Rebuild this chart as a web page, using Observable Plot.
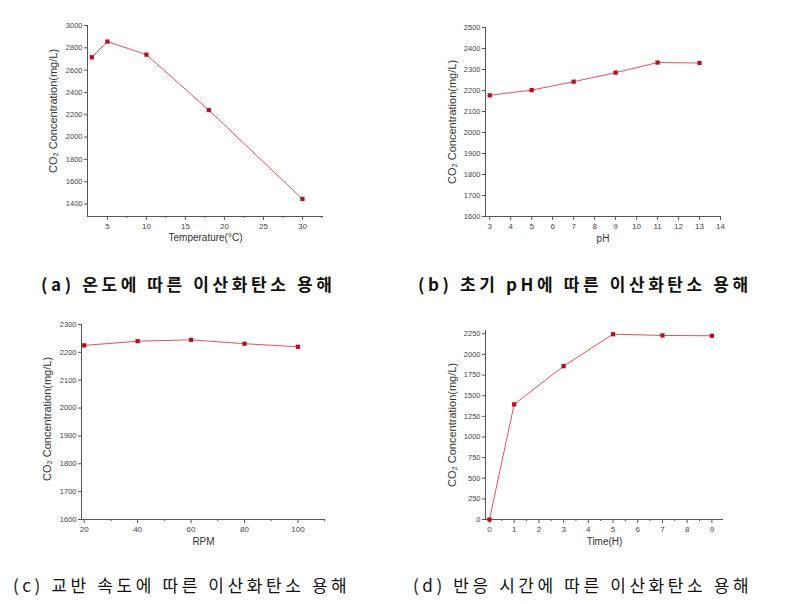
<!DOCTYPE html>
<html><head><meta charset="utf-8">
<script src="https://cdn.jsdelivr.net/npm/d3@7"></script>
<script src="https://cdn.jsdelivr.net/npm/@observablehq/plot@0.6"></script>
<style>
body{margin:0;background:#fff;width:785px;height:604px;position:relative;overflow:hidden;font-family:"Liberation Sans",Arial,sans-serif;}
.p{position:absolute;}
.cap{position:absolute;font-family:"Noto Sans CJK KR",sans-serif;font-size:17px;color:#111;white-space:nowrap;letter-spacing:3.6px;}
.b{font-weight:700;}
</style></head><body>
<div id="a" class="p" style="left:0;top:0"></div>
<div id="b" class="p" style="left:400px;top:0"></div>
<div id="c" class="p" style="left:0;top:300px"></div>
<div id="d" class="p" style="left:400px;top:300px"></div>
<div class="cap b" style="left:41px;top:271px">(a) 온도에 따른 이산화탄소 용해</div>
<div class="cap b" style="left:418px;top:271px">(b) 초기 pH에 따른 이산화탄소 용해</div>
<div class="cap" style="left:13px;top:572px">(c) 교반 속도에 따른 이산화탄소 용해</div>
<div class="cap" style="left:413px;top:572px">(d) 반응 시간에 따른 이산화탄소 용해</div>
<script>
// Panel (a): temperature
const tempX = [3, 5, 10, 18, 30];
const tempY = [2715, 2856, 2739, 2242, 1445];
const tempXTicks = [5, 10, 15, 20, 25, 30];
const tempYTicks = [1400, 1600, 1800, 2000, 2200, 2400, 2600, 2800, 3000];
// Panel (b): pH
const phX = [3, 5, 7, 9, 11, 13];
const phY = [2177, 2202, 2242, 2285, 2333, 2331];
const phXTicks = [3, 4, 5, 6, 7, 8, 9, 10, 11, 12, 13, 14];
const phYTicks = [1600, 1700, 1800, 1900, 2000, 2100, 2200, 2300, 2400, 2500];
// Panel (c): RPM
const rpmX = [20, 40, 60, 80, 100];
const rpmY = [2225, 2240, 2245, 2231, 2220];
const rpmXTicks = [20, 40, 60, 80, 100];
const rpmYTicks = [1600, 1700, 1800, 1900, 2000, 2100, 2200, 2300];
// Panel (d): time
const timeX = [0, 1, 3, 5, 7, 9];
const timeY = [0, 1395, 1858, 2245, 2230, 2226];
const timeXTicks = [0, 1, 2, 3, 4, 5, 6, 7, 8, 9];
const timeYTicks = [0, 250, 500, 750, 1000, 1250, 1500, 1750, 2000, 2250];

const yLabel = "CO₂ Concentration(mg/L)";

function panel(el, xs, ys, cfg){
  const data = xs.map((x,i)=>({x, y: ys[i]}));
  const W = 340, H = 260;
  const ax = "#555";
  const minor = cfg.minor || [];
  const p = Plot.plot({
    width: W, height: H,
    marginLeft: cfg.ml, marginRight: cfg.mr, marginTop: cfg.mt, marginBottom: cfg.mb,
    style: {fontFamily: "Liberation Sans, Arial, sans-serif", fontSize: "8px", color: "#555", background: "transparent"},
    x: {domain: cfg.xd, label: null},
    y: {domain: cfg.yd, label: null},
    marks: [
      Plot.ruleY([cfg.yd[0]], {stroke: ax, strokeWidth: 1}),
      Plot.ruleX([cfg.xd[0]], {stroke: ax, strokeWidth: 1}),
      Plot.axisX({ticks: cfg.xt, tickSize: 4, tickPadding: 3, stroke: ax, fill: "#444", fontSize: 8, tickFormat: d => String(d)}),
      ...(minor.length ? [Plot.axisX({ticks: minor, tickSize: 2, tickFormat: () => "", stroke: ax})] : []),
      Plot.axisY({ticks: cfg.yt, tickSize: 3, tickPadding: 2, stroke: ax, fill: "#444", fontSize: 7.5, tickFormat: d => String(d)}),
      Plot.line(data, {x: "x", y: "y", stroke: "#e8505a", strokeWidth: 1}),
      Plot.dot(data, {x: "x", y: "y", symbol: "square", r: 2.4, fill: "#b3101e", stroke: "none"}),
      Plot.text([cfg.xl], {frameAnchor: "bottom", dy: cfg.xdy, text: d => d, fontSize: 10, fill: "#333"}),
      Plot.text([yLabel], {frameAnchor: "left", textAnchor: "middle", dx: cfg.ydx, dy: cfg.ydy || 0, rotate: -90, text: d => d, fontSize: 11, fill: "#333"})
    ]
  });
  document.getElementById(el).appendChild(p);
}

panel("a", tempX, tempY, {ml:87, mr:17, mt:25, mb:44, xd:[2.45,32.7], yd:[1288,3000], xt:tempXTicks, yt:tempYTicks,
  minor:[7.5,12.5,17.5,22.5,27.5,32.5], xl:"Temperature(°C)", xdy:24, ydx:-34, ydy:-10});
panel("b", phX, phY, {ml:85, mr:20, mt:27, mb:44, xd:[2.8,14], yd:[1600,2500], xt:phXTicks, yt:phYTicks,
  minor:[], xl:"pH", xdy:25, ydx:-33});
panel("c", rpmX, rpmY, {ml:81, mr:15, mt:24, mb:41, xd:[19,110.3], yd:[1600,2300], xt:rpmXTicks, yt:rpmYTicks,
  minor:[30,50,70,90,110], xl:"RPM", xdy:25, ydx:-34, ydy:-3});
panel("d", timeX, timeY, {ml:85, mr:17, mt:30, mb:41, xd:[-0.16,9.47], yd:[0,2290], xt:timeXTicks, yt:timeYTicks,
  minor:[0.5,1.5,2.5,3.5,4.5,5.5,6.5,7.5,8.5], xl:"Time(H)", xdy:25, ydx:-33});
</script>
</body></html>
